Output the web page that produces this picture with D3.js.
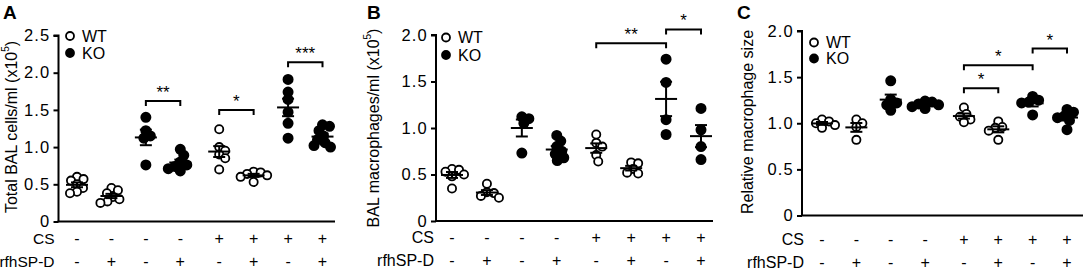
<!DOCTYPE html>
<html><head><meta charset="utf-8">
<script src="https://cdn.jsdelivr.net/npm/d3@7"></script>
<style>
html,body{margin:0;padding:0;background:#fff;}
svg{display:block;font-family:"Liberation Sans",Arial,Helvetica,sans-serif;}
</style></head>
<body>
<svg id="chart" width="1084" height="270"></svg>
<script>
// ---- data ----
const csRow  = ["-","-","-","-","+","+","+","+"];
const spdRow = ["-","+","-","+","-","+","-","+"];
const genotype = ["WT","WT","KO","KO","WT","WT","KO","KO"];
const legendLabels = ["WT","KO"];

const totalBAL = [
  [0.60,0.57,0.55,0.50,0.45,0.40,0.38],
  [0.45,0.42,0.38,0.33,0.30,0.27,0.25],
  [1.40,1.22,1.15,1.12,0.76],
  [0.97,0.89,0.80,0.76,0.74,0.71,0.68],
  [1.24,1.00,0.95,0.90,0.85,0.70],
  [0.67,0.66,0.64,0.62,0.60,0.53],
  [1.91,1.74,1.64,1.47,1.32,1.12],
  [1.30,1.28,1.22,1.15,1.10,1.06,1.02,1.00]
];
const balMacro = [
  [0.56,0.55,0.53,0.50,0.48,0.35],
  [0.40,0.31,0.30,0.27,0.25],
  [1.12,1.10,1.05,0.73],
  [0.92,0.86,0.80,0.75,0.72,0.68,0.65],
  [0.93,0.84,0.80,0.71,0.64],
  [0.63,0.62,0.56,0.52,0.51],
  [1.74,1.49,1.09,0.93],
  [1.21,0.98,0.80,0.66]
];
const macroSize = [
  [1.04,1.02,1.00,0.98,0.95],
  [1.04,1.00,0.96,0.82],
  [1.46,1.26,1.22,1.20,1.14],
  [1.24,1.23,1.21,1.20,1.18,1.16],
  [1.17,1.10,1.07,1.04,1.01],
  [1.02,0.96,0.95,0.92,0.82],
  [1.29,1.25,1.23,1.22,1.09],
  [1.15,1.12,1.08,1.06,1.03,0.93]
];
const ticksA = [0,0.5,1.0,1.5,2.0,2.5];
const ticksBC = [0,0.5,1.0,1.5,2.0];
// significance: [group from, group to, height (data units), label]
const sigA = [[2,3,1.62,"**"],[4,5,1.50,"*"],[6,7,2.14,"***"]];
const sigB = [[4,6,1.91,"**"],[6,7,2.06,"*"]];
const sigC = [[4,5,1.38,"*"],[4,6,1.63,"*"],[6,7,1.81,"*"]];

// ---- layout ----
const panels = [
  {letter:"A", values:totalBAL, ticks:ticksA, yMax:2.5, sig:sigA,
   title:"Total BAL cells/ml (x10", sup:"5", titleSuffix:")",
   axisX:58.5, axisRight:335, y0:221.5, yTop:35.5, first:77, last:322.5,
   titleX:10.5, titleY:127, letterX:3, legX:70, legY:[36,53], rowX:54.5, rowY:[244,267], rowFont:15.5},
  {letter:"B", values:balMacro, ticks:ticksBC, yMax:2.0, sig:sigB,
   title:"BAL macrophages/ml (x10", sup:"5", titleSuffix:")",
   axisX:436, axisRight:713, y0:221, yTop:35, first:452, last:701,
   titleX:373, titleY:128, letterX:367, legX:446, legY:[37.5,55], rowX:434, rowY:[243,266], rowFont:16},
  {letter:"C", values:macroSize, ticks:ticksBC, yMax:2.0, sig:sigC,
   title:"Relative macrophage size", sup:null, titleSuffix:"",
   axisX:802, axisRight:1083, y0:215.5, yTop:31, first:822, last:1067,
   titleX:747, titleY:122, letterX:737, legX:814, legY:[42.5,58.5], rowX:804, rowY:[245,268], rowFont:16}
];

const svg = d3.select("#chart");
const gapFrac = 0.13;
const R = 4.6;

function swarm(ys, minD){
  const placed = [];
  return ys.map(y => {
    let off = 0;
    for (let k = 0; k < 200; k++){
      const c = (k % 2 ? 1 : -1) * Math.ceil(k/2) * 0.5;
      if (placed.every(p => (p.x-c)*(p.x-c) + (p.y-y)*(p.y-y) >= minD*minD)) { off = c; break; }
    }
    placed.push({x:off, y:y});
    return off;
  });
}

panels.forEach(P => {
  const g = svg.append("g");
  const y = d3.scaleLinear().domain([0, P.yMax]).range([P.y0, P.yTop]);
  const xi = d3.scaleLinear().domain([0, 7 + gapFrac]).range([P.first, P.last]);
  const x = i => xi(i + (csRow[i] === "+" ? gapFrac : 0));

  // axes
  const yAxis = d3.axisLeft(y).tickValues(P.ticks).tickSize(5).tickPadding(3)
    .tickFormat(d => d === 0 ? "0" : d3.format(".1f")(d));
  const ya = g.append("g").attr("transform", `translate(${P.axisX},0)`).call(yAxis);
  ya.select(".domain").attr("stroke","#000").attr("stroke-width",2)
    .attr("d", `M-5,${P.yTop}H0V${P.y0}`);
  ya.selectAll(".tick line").attr("stroke","#000").attr("stroke-width",2);
  ya.selectAll(".tick text").attr("font-size",16.5).attr("fill","#000")
    .attr("font-family","'Liberation Sans',Arial,sans-serif").attr("letter-spacing","1.2px");
  g.append("line").attr("x1",P.axisX-1).attr("x2",P.axisRight)
    .attr("y1",P.y0).attr("y2",P.y0).attr("stroke","#000").attr("stroke-width",2);

  // titles
  const t = g.append("text").attr("transform",`translate(${P.titleX},${P.titleY}) rotate(-90)`)
    .attr("text-anchor","middle").attr("dominant-baseline","central").attr("font-size",16);
  t.append("tspan").text(P.title);
  if (P.sup){
    t.append("tspan").attr("font-size",10).attr("dy",-6).text(P.sup);
    t.append("tspan").attr("dy",6).text(P.titleSuffix);
  }
  g.append("text").attr("x",P.letterX).attr("y",19).attr("font-size",19)
    .attr("font-weight","bold").text(P.letter);

  // legend
  legendLabels.forEach((lab, k) => {
    g.append("circle").attr("cx",P.legX).attr("cy",P.legY[k]).attr("r",4)
      .attr("fill", lab === "WT" ? "#fff" : "#000").attr("stroke","#000").attr("stroke-width",1.8);
    g.append("text").attr("x",P.legX+12).attr("y",P.legY[k]).attr("dy","0.36em")
      .attr("font-size",16).text(lab);
  });

  // row labels
  [["CS",csRow],["rfhSP-D",spdRow]].forEach(([lab,row],k) => {
    g.append("text").attr("x",P.rowX).attr("y",P.rowY[k]).attr("text-anchor","end")
      .attr("font-size",P.rowFont).text(lab);
    row.forEach((s,i) => {
      g.append("text").attr("x",x(i)).attr("y",P.rowY[k]).attr("text-anchor","middle")
        .attr("font-size",16).text(s);
    });
  });

  // points
  P.values.forEach((vals, i) => {
    const ys = vals.map(v => y(v));
    const offs = swarm(ys, 6.8);
    const open = genotype[i] === "WT";
    g.append("g").selectAll("circle").data(vals).join("circle")
      .attr("cx",(d,j) => x(i) + offs[j]).attr("cy", d => y(d)).attr("r", open ? R-0.5 : R)
      .attr("fill", open ? "#fff" : "#000").attr("stroke","#000").attr("stroke-width",1.8);
    const m = d3.mean(vals);
    const se = d3.deviation(vals) / Math.sqrt(vals.length);
    const eb = g.append("g").attr("stroke","#000").attr("stroke-width",2);
    eb.append("line").attr("x1",x(i)-11).attr("x2",x(i)+11).attr("y1",y(m)).attr("y2",y(m));
    eb.append("line").attr("x1",x(i)).attr("x2",x(i)).attr("y1",y(m-se)).attr("y2",y(m+se));
    [m-se, m+se].forEach(v => eb.append("line").attr("x1",x(i)-6).attr("x2",x(i)+6)
      .attr("y1",y(v)).attr("y2",y(v)));
  });

  // significance
  P.sig.forEach(([a,b,h,lab]) => {
    const yy = y(h);
    g.append("path").attr("d",`M${x(a)},${yy+5}V${yy}H${x(b)}V${yy+5}`)
      .attr("fill","none").attr("stroke","#000").attr("stroke-width",2);
    g.append("text").attr("x",(x(a)+x(b))/2).attr("y",yy-3).attr("text-anchor","middle")
      .attr("font-size",17).text(lab);
  });
});
</script>
</body></html>
